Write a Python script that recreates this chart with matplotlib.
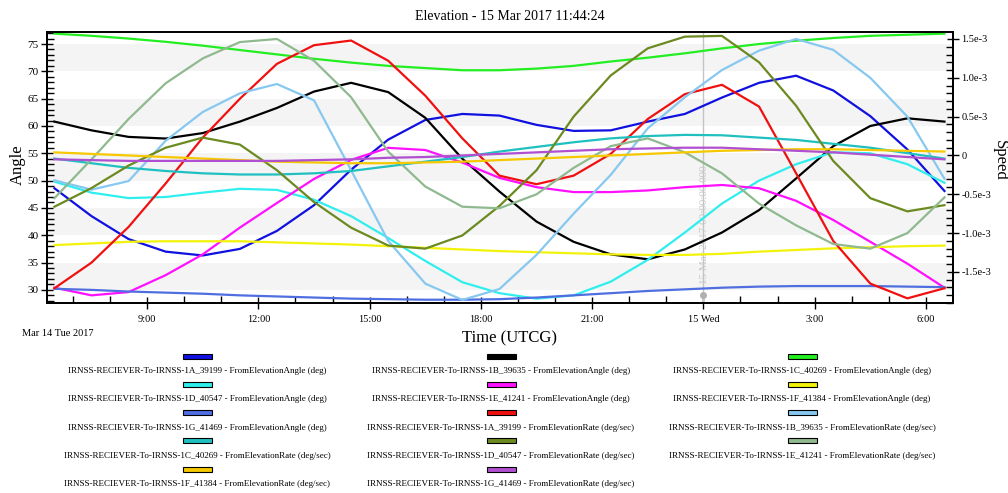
import numpy as np
import matplotlib.pyplot as plt
from matplotlib.patches import Rectangle

plt.rcParams['font.family'] = ['Liberation Serif', 'DejaVu Serif']

# sample times, hours since 14 Mar 2017 00:00 UTCG
hours = [6.5, 7.5, 8.5, 9.5, 10.5, 11.5, 12.5, 13.5, 14.5, 15.5, 16.5, 17.5, 18.5,
         19.5, 20.5, 21.5, 22.5, 23.5, 24.5, 25.5, 26.5, 27.5, 28.5, 29.5, 30.5]

# elevation angle (deg)
ang_1a = [48.6, 43.5, 39.3, 37.0, 36.3, 37.5, 40.8, 45.5, 52.0, 57.5, 61.1, 62.2, 61.9,
          60.2, 59.1, 59.2, 60.8, 62.2, 65.2, 67.9, 69.2, 66.5, 61.8, 55.7, 48.1]
ang_1b = [60.8, 59.2, 58.0, 57.7, 58.7, 60.8, 63.3, 66.3, 67.9, 66.2, 61.5, 54.0, 48.0,
          42.5, 38.8, 36.5, 35.6, 37.4, 40.5, 44.6, 50.4, 56.3, 60.0, 61.4, 60.8]
ang_1c = [76.9, 76.5, 76.0, 75.4, 74.7, 73.9, 73.1, 72.3, 71.6, 71.0, 70.6, 70.2, 70.2,
          70.5, 71.0, 71.8, 72.5, 73.3, 74.2, 75.0, 75.6, 76.1, 76.5, 76.7, 76.9]
ang_1d = [49.8, 47.8, 46.8, 47.0, 47.8, 48.5, 48.3, 46.5, 43.5, 39.5, 35.3, 31.4, 29.4,
          28.4, 29.0, 31.5, 35.5, 40.5, 45.8, 50.0, 53.0, 55.2, 55.0, 53.0, 49.6]
ang_1e = [30.4, 29.0, 29.6, 32.7, 36.5, 41.4, 45.9, 50.3, 53.8, 56.0, 55.6, 53.3, 50.5,
          48.8, 47.9, 47.9, 48.2, 48.8, 49.2, 48.6, 46.3, 42.8, 38.8, 34.8, 30.4]
ang_1f = [38.2, 38.5, 38.8, 38.9, 38.9, 38.9, 38.7, 38.5, 38.3, 38.0, 37.7, 37.4, 37.1,
          36.9, 36.7, 36.5, 36.4, 36.4, 36.6, 37.0, 37.3, 37.6, 37.8, 38.0, 38.1]
ang_1g = [30.2, 30.0, 29.7, 29.5, 29.3, 29.0, 28.8, 28.6, 28.4, 28.3, 28.2, 28.2, 28.3,
          28.6, 29.0, 29.4, 29.8, 30.1, 30.4, 30.6, 30.7, 30.7, 30.7, 30.6, 30.5]

# elevation rate, units of 1e-3 deg/sec
rate_1a = [-1.71, -1.38, -0.92, -0.36, 0.23, 0.73, 1.18, 1.42, 1.48, 1.22, 0.77, 0.22, -0.26,
           -0.37, -0.26, 0.02, 0.47, 0.79, 0.91, 0.63, -0.23, -1.10, -1.65, -1.84, -1.71]
rate_1b = [-0.32, -0.44, -0.33, 0.19, 0.56, 0.80, 0.92, 0.71, -0.19, -1.10, -1.65, -1.86, -1.72,
           -1.28, -0.75, -0.25, 0.35, 0.75, 1.10, 1.35, 1.50, 1.36, 1.00, 0.50, -0.30]
rate_1c = [-0.04, -0.10, -0.16, -0.20, -0.23, -0.245, -0.245, -0.23, -0.20, -0.14, -0.08, -0.02, 0.05,
           0.11, 0.17, 0.22, 0.25, 0.265, 0.26, 0.23, 0.20, 0.15, 0.10, 0.03, -0.04]
rate_1d = [-0.66, -0.42, -0.13, 0.10, 0.23, 0.14, -0.19, -0.60, -0.93, -1.16, -1.20, -1.03, -0.65,
           -0.19, 0.50, 1.03, 1.38, 1.53, 1.54, 1.20, 0.64, -0.07, -0.55, -0.72, -0.64]
rate_1e = [-0.55, -0.05, 0.47, 0.93, 1.25, 1.46, 1.50, 1.22, 0.75, 0.05, -0.40, -0.66, -0.68,
           -0.50, -0.16, 0.12, 0.22, 0.04, -0.23, -0.62, -0.90, -1.14, -1.20, -1.00, -0.54]
rate_1f = [0.04, 0.02, 0.00, -0.02, -0.04, -0.06, -0.08, -0.09, -0.10, -0.10, -0.09, -0.08, -0.06,
           -0.04, -0.02, 0.00, 0.02, 0.04, 0.06, 0.07, 0.08, 0.08, 0.07, 0.06, 0.05]
rate_1g = [-0.05, -0.06, -0.07, -0.07, -0.07, -0.07, -0.07, -0.06, -0.05, -0.03, -0.02, 0.00, 0.02,
           0.04, 0.06, 0.08, 0.09, 0.10, 0.10, 0.08, 0.06, 0.04, 0.01, -0.02, -0.05]

sats = ['1A_39199', '1B_39635', '1C_40269', '1D_40547', '1E_41241', '1F_41384', '1G_41469']
angle_colors = ['#1010e0', '#000000', '#22ee22', '#30eeee', '#ff10ff', '#f2f20a', '#4f6fe0']
rate_colors = ['#f01010', '#87c8f0', '#20c0c0', '#6b8a20', '#8fb98f', '#f5c800', '#b050d0']
angles = [ang_1a, ang_1b, ang_1c, ang_1d, ang_1e, ang_1f, ang_1g]
rates = [rate_1a, rate_1b, rate_1c, rate_1d, rate_1e, rate_1f, rate_1g]

xtick_pos = [9, 12, 15, 18, 21, 24, 27, 30]
xtick_lab = ['9:00', '12:00', '15:00', '18:00', '21:00', '15 Wed', '3:00', '6:00']
ytick_ang = [30, 35, 40, 45, 50, 55, 60, 65, 70, 75]
ytick_rate = [-1.5e-3, -1.0e-3, -0.5e-3, 0, 0.5e-3, 1.0e-3, 1.5e-3]
ytick_rate_lab = ['-1.5e-3', '-1.0e-3', '-0.5e-3', '0', '0.5e-3', '1.0e-3', '1.5e-3']

W, H = 1008, 493
fig = plt.figure(figsize=(W / 100, H / 100), dpi=100)
ax = fig.add_axes([47 / W, 1 - 303 / H, (953 - 47) / W, (303 - 32) / H])
ax2 = ax.twinx()

# alternating bands behind the curves
for lo in range(30, 76, 10):
    ax.axhspan(lo, lo + 5, color='#f4f4f4', zorder=0, lw=0)

t = np.array(hours)
for vals, c in zip(angles, angle_colors):
    ax.plot(t, vals, color=c, lw=1.6, solid_joinstyle='round', zorder=3)
for vals, c in zip(rates, rate_colors):
    ax2.plot(t, np.array(vals) * 1e-3, color=c, lw=1.6, solid_joinstyle='round', zorder=3)

ax.set_xlim(6.3, 30.73)
ax.set_ylim(27.6, 77.2)
ax2.set_ylim(-1.9e-3, 1.59e-3)

# epoch marker
ax.axvline(24, color='#c4c4c4', lw=1, zorder=2)
ax.plot([24], [0.03], 'o', ms=4, color='#b0b0b0', transform=ax.get_xaxis_transform(), clip_on=False, zorder=4)
ax.text(24.03, 0.29, '15 Mar 2017 00:00:00.000', rotation=90, ha='center', va='center',
        fontsize=8, color='#c8c8c8', transform=ax.get_xaxis_transform(), zorder=2)

ax.set_xticks(xtick_pos)
ax.set_xticklabels(xtick_lab, fontsize=7.5)
ax.set_xticks(range(7, 31), minor=True)
ax.set_yticks(ytick_ang)
ax.set_yticklabels([str(v) for v in ytick_ang], fontsize=8)
ax.set_yticks(np.arange(28, 78), minor=True)
ax2.set_yticks(ytick_rate)
ax2.set_yticklabels(ytick_rate_lab, fontsize=7.5)
ax2.set_yticks(np.arange(-19, 16) * 1e-4, minor=True)

for a in (ax, ax2):
    a.tick_params(which='major', direction='inout', length=8, width=1, pad=2)
    a.tick_params(which='minor', direction='in', length=5, width=1)
    for s in a.spines.values():
        s.set_linewidth(1.3)
ax.tick_params(axis='x', which='major', pad=5)
ax.spines['top'].set_color('#333333')

fig.text(510 / W, 1 - 16 / H, 'Elevation - 15 Mar 2017 11:44:24', ha='center', va='center', fontsize=10)
fig.text(18 / W, 1 - 165 / H, 'Angle', rotation=90, ha='center', va='center', fontsize=12)
fig.text(1000 / W, 1 - 160 / H, 'Speed', rotation=270, ha='center', va='center', fontsize=12)
fig.text(510 / W, 1 - 338 / H, 'Time (UTCG)', ha='center', va='center', fontsize=12)
fig.text(22 / W, 1 - 334 / H, 'Mar 14 Tue 2017', ha='left', va='center', fontsize=7.5)

# legend: patch above label, three columns
labels = ['IRNSS-RECIEVER-To-IRNSS-%s - FromElevationAngle (deg)' % s for s in sats] + \
         ['IRNSS-RECIEVER-To-IRNSS-%s - FromElevationRate (deg/sec)' % s for s in sats]
colors = angle_colors + rate_colors
col_x = [197, 501, 802]
for i, (lab, c) in enumerate(zip(labels, colors)):
    row, col = divmod(i, 3)
    cx = col_x[col]
    py = 356 + row * 28.3
    ty = 371 + row * 28.3
    fig.add_artist(Rectangle(((cx - 14.5) / W, 1 - (py + 2.5) / H), 29 / W, 5 / H,
                             facecolor=c, edgecolor='black', lw=0.8, transform=fig.transFigure))
    fig.text(cx / W, 1 - ty / H, lab, ha='center', va='center', fontsize=6.5)

fig.savefig('out.png', dpi=100)
